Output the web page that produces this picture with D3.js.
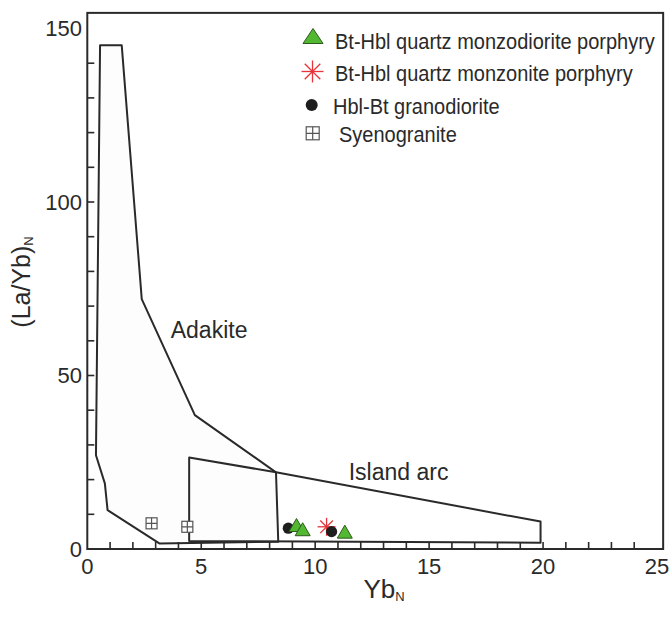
<!DOCTYPE html>
<html>
<head>
<meta charset="utf-8">
<script src="https://cdn.jsdelivr.net/npm/d3@7"></script>
<style>
  body { margin: 0; background: #fff; }
  svg { display: block; font-family: "Liberation Sans", Arial, sans-serif; }
</style>
</head>
<body>
<svg id="chart" width="671" height="622"></svg>
<script>
/*-- data --*/
var monzodiorite = [[9.18, 6.9], [9.45, 5.7], [11.3, 5.0]]
var monzonite = [[10.5, 6.4]]
var granodiorite = [[8.82, 6.0], [10.72, 5.0]]
var syenogranite = [[2.82, 7.4], [4.39, 6.4]]

/* field outlines */
var adakite = [[0.56, 145.2], [1.51, 145.2], [2.39, 72], [4.72, 38.6], [8.28, 22.1],
               [8.38, 2.1], [3.16, 1.6], [0.89, 11.2], [0.77, 18.9], [0.38, 27]]
var islandArc = [[4.47, 26.4], [8.28, 22.1], [19.89, 7.9], [19.89, 1.8], [4.47, 2.3]]

var xTicks = [0, 5, 10, 15, 20, 25]
var yTicks = [0, 50, 100, 150]
var xMinor = d3.range(1, 25)
var yMinor = d3.range(10, 150, 10)

var legendNames = ["Bt-Hbl quartz monzodiorite porphyry", "Bt-Hbl quartz monzonite porphyry",
                   "Hbl-Bt granodiorite", "Syenogranite"]
var fieldNames = [{name: "Adakite", at: [3.66, 60.9]}, {name: "Island arc", at: [11.47, 19.9]}]

/*-- scales --*/
var x = d3.scaleLinear().domain([0, 25]).range([87.3, 657])
var y = d3.scaleLinear().domain([0, 150]).range([549, 28.5])
var xMax = 25.27, yMax = 154.5

var ink = "#2a2a2a"
var svg = d3.select("#chart")
var line = d3.line().x(function(d) { return x(d[0]) }).y(function(d) { return y(d[1]) })

/* fields */
svg.append("path").datum(adakite)
    .attr("d", function(d) { return line(d) + "Z" })
    .attr("fill", "#fdfdfd").attr("stroke", ink).attr("stroke-width", 2)
    .attr("stroke-linejoin", "round")

svg.append("path").datum(islandArc)
    .attr("d", function(d) { return line(d) + "Z" })
    .attr("fill", "none").attr("stroke", ink).attr("stroke-width", 2)
    .attr("stroke-linejoin", "round")

svg.append("g").selectAll("text").data(fieldNames).enter().append("text")
    .text(function(d) { return d.name })
    .attr("x", function(d) { return x(d.at[0]) })
    .attr("y", function(d) { return y(d.at[1]) })
    .attr("font-size", 23).attr("fill", ink)

/* frame */
svg.append("rect")
    .attr("x", x(0)).attr("y", y(yMax))
    .attr("width", x(xMax) - x(0)).attr("height", y(0) - y(yMax))
    .attr("fill", "none").attr("stroke", ink).attr("stroke-width", 2)

/* inner ticks */
svg.append("g").selectAll("line").data(xMinor).enter().append("line")
    .attr("x1", x).attr("x2", x)
    .attr("y1", y(0)).attr("y2", y(0) - 7)
    .attr("stroke", ink).attr("stroke-width", 1.6)

svg.append("g").selectAll("line").data(yMinor).enter().append("line")
    .attr("x1", x(0)).attr("x2", x(0) + 7)
    .attr("y1", y).attr("y2", y)
    .attr("stroke", ink).attr("stroke-width", 1.6)

/* tick labels */
svg.append("g").selectAll("text").data(xTicks).enter().append("text")
    .text(function(d) { return d })
    .attr("x", x).attr("y", 574)
    .attr("text-anchor", "middle").attr("font-size", 22).attr("fill", ink)

svg.append("g").selectAll("text").data(yTicks).enter().append("text")
    .text(function(d) { return d })
    .attr("x", 82).attr("y", function(d) { return y(d) })
    .attr("dy", "0.35em")
    .attr("text-anchor", "end").attr("font-size", 22).attr("fill", ink)

/* axis titles */
var xt = svg.append("text").attr("x", 384).attr("y", 598)
    .attr("text-anchor", "middle").attr("font-size", 26).attr("fill", ink)
xt.append("tspan").text("Yb")
xt.append("tspan").text("N").attr("font-size", 13).attr("dy", 3)

var yt = svg.append("text").attr("transform", "translate(30,282) rotate(-90)")
    .attr("text-anchor", "middle").attr("font-size", 25).attr("fill", ink)
yt.append("tspan").text("(La/Yb)")
yt.append("tspan").text("N").attr("font-size", 13).attr("dy", 3)

/*-- symbols --*/
function triangle(g, cx, cy, w, h) {
    g.append("path")
        .attr("d", "M" + (cx - w / 2) + "," + (cy + h / 2) + "L" + cx + "," + (cy - h / 2) + "L" + (cx + w / 2) + "," + (cy + h / 2) + "Z")
        .attr("fill", "#52b832").attr("stroke", "#2d5a1c").attr("stroke-width", 1)
}
function star(g, cx, cy, r) {
    for (var a = 0; a < 4; a++) {
        var t = a * Math.PI / 4
        g.append("line")
            .attr("x1", cx - r * Math.cos(t)).attr("y1", cy - r * Math.sin(t))
            .attr("x2", cx + r * Math.cos(t)).attr("y2", cy + r * Math.sin(t))
            .attr("stroke", "#e8333b").attr("stroke-width", 1.3)
    }
}
function dot(g, cx, cy, r) {
    g.append("circle").attr("cx", cx).attr("cy", cy).attr("r", r).attr("fill", "#1e1e1e")
}
function box(g, cx, cy, s) {
    g.append("rect").attr("x", cx - s / 2).attr("y", cy - s / 2).attr("width", s).attr("height", s)
        .attr("fill", "#fff").attr("stroke", "#555").attr("stroke-width", 1.2)
    g.append("path").attr("d", "M" + cx + "," + (cy - s / 2) + "V" + (cy + s / 2) + "M" + (cx - s / 2) + "," + cy + "H" + (cx + s / 2))
        .attr("stroke", "#555").attr("stroke-width", 1.2)
}

var pts = svg.append("g")
syenogranite.forEach(function(d) { box(pts, x(d[0]), y(d[1]), 11) })
monzonite.forEach(function(d) { star(pts, x(d[0]), y(d[1]), 9) })
granodiorite.forEach(function(d) { dot(pts, x(d[0]), y(d[1]), 5.6) })
monzodiorite.forEach(function(d) { triangle(pts, x(d[0]), y(d[1]), 15, 13) })

/*-- legend --*/
var lg = svg.append("g")
var rows = [49.3, 81, 114, 141.7]
triangle(lg, 313, 36, 20, 15)
star(lg, 312.5, 71.5, 11)
dot(lg, 311.7, 105, 6)
box(lg, 312.7, 133.3, 13)

lg.selectAll("text").data(legendNames).enter().append("text")
    .text(function(d) { return d })
    .attr("transform", function(d, i) {
        var tx = i == 3 ? 339 : (i == 2 ? 333 : 335)
        return "translate(" + tx + "," + rows[i] + ") scale(1,1.08)"
    })
    .attr("font-size", 20).attr("fill", ink)
</script>
</body>
</html>
